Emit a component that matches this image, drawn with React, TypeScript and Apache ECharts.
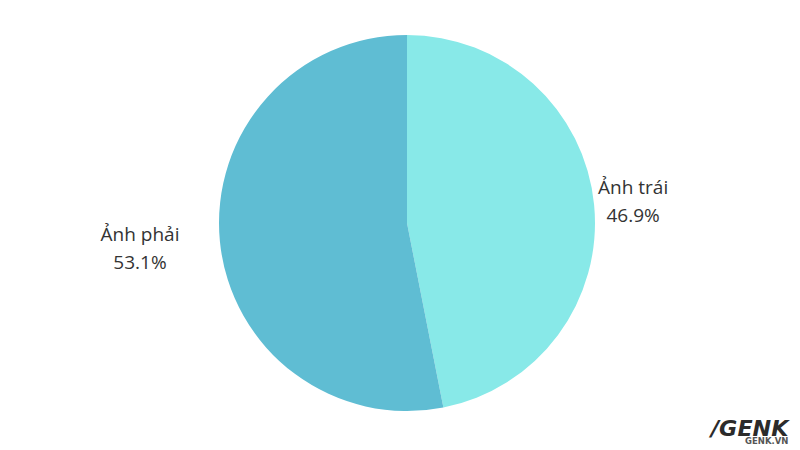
import React, { useEffect, useRef } from "react";
import * as echarts from "echarts";

const categories = ["Ảnh trái", "Ảnh phải"];
const values = [46.9, 53.1];
const colors = ["#88E9E8", "#5FBDD3"];

export default function App() {
  const ref = useRef<HTMLDivElement>(null);
  useEffect(() => {
    if (!ref.current) return;
    const chart = echarts.init(ref.current, undefined, { renderer: "svg" });
    const perItem = [
      {
        label: { padding: [0, 0, 7, 0], distanceToLabelLine: 2 },
        labelLine: { show: false, length: 0, length2: 0 },
      },
      {
        label: { padding: [9, 0, 0, 0], distanceToLabelLine: 5 },
        labelLine: { show: false, length: 19, length2: 19 },
      },
    ];
    chart.setOption({
      animation: false,
      backgroundColor: "#ffffff",
      series: [
        {
          type: "pie",
          center: [407, 223],
          radius: 188,
          startAngle: 90,
          clockwise: true,
          percentPrecision: 1,
          data: categories.map((c, i) => ({
            name: c,
            value: values[i],
            itemStyle: { color: colors[i] },
            label: perItem[i].label,
            labelLine: perItem[i].labelLine,
          })),
          label: {
            show: true,
            position: "outside",
            formatter: "{t|{b}}\n{t|{d}%}",
            width: 74,
            rich: {
              t: {
                fontFamily: "Open Sans",
                fontSize: 19,
                lineHeight: 28,
                color: "#333333",
                align: "center",
                width: 74,
              },
            },
          },
          labelLine: { show: false, length: 0, length2: 0 },
        },
      ],
      graphic: [
        {
          type: "text",
          x: 711,
          y: 418,
          scaleX: 1.06,
          style: {
            text: "/GENK",
            font: "italic 900 21px 'DejaVu Sans'",
            fill: "#2b2b2b",
          },
        },
        {
          type: "text",
          left: 745,
          top: 436,
          style: {
            text: "GENK.VN",
            font: "bold 8.5px 'DejaVu Sans'",
            fill: "#555555",
          },
        },
      ],
    });
    return () => chart.dispose();
  }, []);
  return (
    <div
      ref={ref}
      style={{ position: "fixed", left: 0, top: 0, width: 800, height: 450 }}
    />
  );
}
